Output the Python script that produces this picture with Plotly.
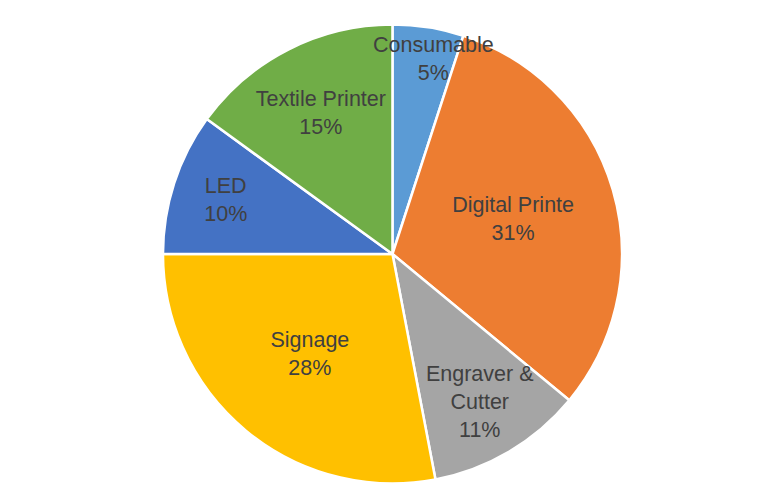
import math
import plotly.graph_objects as go

labels = ["Consumable", "Digital Printe", "Engraver &<br>Cutter", "Signage", "LED", "Textile Printer"]
values = [5, 31, 11, 28, 10, 15]
colors = ["#5B9BD5", "#ED7D31", "#A5A5A5", "#FFC000", "#4472C4", "#70AD47"]

FONT = dict(family="Liberation Sans, Arial, sans-serif", size=21.5, color="#404040")
W, H = 776, 502
DOM_X = [0.1997, 0.7912]
DOM_Y = [0.0518, 0.9681]

total = sum(values)
# the thin first slice gets its label as an annotation (Plotly would clip it)
textpos = ["none"] + ["inside"] * (len(values) - 1)

fig = go.Figure(go.Pie(
    labels=labels,
    values=values,
    sort=False,
    direction="clockwise",
    rotation=0,
    marker=dict(colors=colors, line=dict(color="white", width=2.5)),
    texttemplate="%{label}<br>%{percent:.0%}",
    textposition=textpos,
    insidetextorientation="horizontal",
    textfont=FONT,
    hoverinfo="label+percent",
    showlegend=False,
    domain=dict(x=DOM_X, y=DOM_Y),
))

# label for the first slice, placed at its mid-angle, computed from the data
cx = (DOM_X[0] + DOM_X[1]) / 2 * W
cy = (DOM_Y[0] + DOM_Y[1]) / 2 * H
r = min((DOM_X[1] - DOM_X[0]) * W, (DOM_Y[1] - DOM_Y[0]) * H) / 2
mid = 2 * math.pi * (values[0] / 2) / total
rf = 0.86
ax = cx + math.sin(mid) * r * rf
ay = cy + math.cos(mid) * r * rf
fig.add_annotation(
    x=ax / W, y=ay / H, xref="paper", yref="paper",
    text=f"{labels[0]}<br>{round(100 * values[0] / total)}%",
    showarrow=False, font=FONT, xanchor="center", yanchor="middle",
    xshift=10,
)

fig.update_layout(
    width=W, height=H,
    margin=dict(l=0, r=0, t=0, b=0),
    paper_bgcolor="white",
    uniformtext=dict(minsize=21.5, mode="show"),
)

fig.write_html("out.html")
